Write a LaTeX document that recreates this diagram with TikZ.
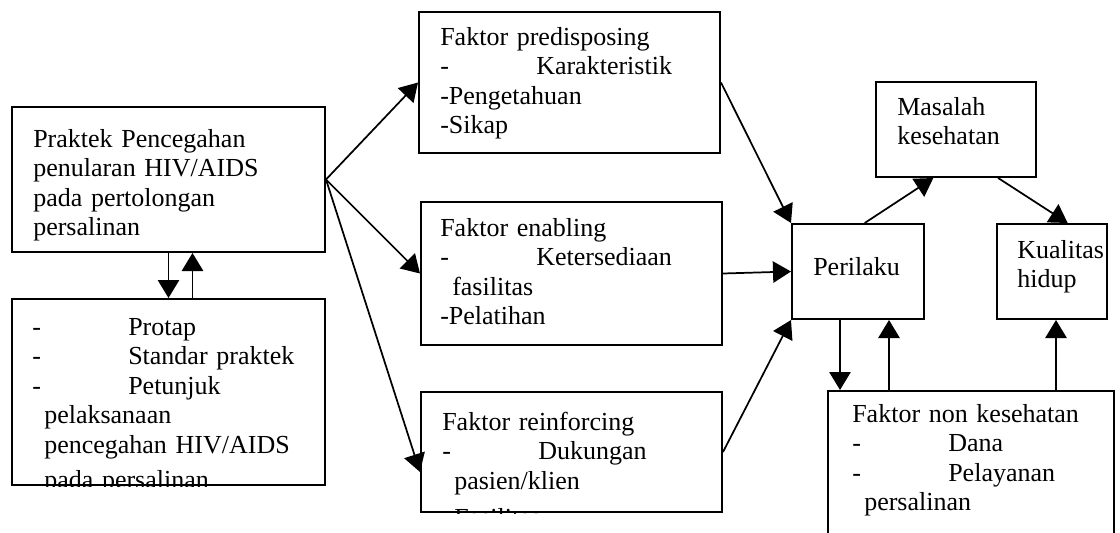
\documentclass[tikz,border=0pt]{standalone}
\usepackage{fontspec}
\setmainfont{Liberation Serif}
\usetikzlibrary{arrows.meta,fit,calc}
\newcommand{\dtab}[1]{\makebox[72pt][l]{-}#1}
\newcommand{\cind}[1]{\hspace*{9pt}#1}
\begin{document}
\begin{tikzpicture}[x=0.75pt,y=-0.75pt,
  box/.style={draw,line width=1.5pt,inner sep=0pt},
  txt/.style={anchor=base west,inner sep=0pt,align=left,text width=300pt,
    font=\fontsize{19.5pt}{22.2pt}\selectfont},
  arr/.style={line width=1.3pt,-{Triangle[length=13.5pt,width=16pt]}}]
\clip (0,0) rectangle (1120,532);
% boxes
\node[box,fit={(12,107)(325,252)}] (b1) {};
\node[box,fit={(12,299)(325,485)}] (b2) {};
\node[box,fit={(419,12)(720,153)}] (b3) {};
\node[box,fit={(421,202)(722,345)}] (b4) {};
\node[box,fit={(421,392)(722,512)}] (b5) {};
\node[box,fit={(792,224)(924,319)}] (p) {};
\node[box,fit={(876,82)(1036,177)}] (m) {};
\node[box,fit={(997,224)(1107,319)}] (k) {};
\node[box,fit={(828,391)(1114,560)}] (n) {};
% texts
\node[txt] (t1) at (33,147) {Praktek Pencegahan\\penularan HIV/AIDS\\pada pertolongan\\persalinan};
\begin{scope}
\clip (b2.north west) rectangle (b2.south east);
\node[txt] (t2) at (32,335) {\dtab{Protap}\\\dtab{Standar praktek}\\\dtab{Petunjuk}\\\cind{pelaksanaan}\\\cind{pencegahan HIV/AIDS}\\[4pt]\cind{pada persalinan}};
\end{scope}
\node[txt] (t3) at (440,45) {Faktor predisposing\\\dtab{Karakteristik}\\-Pengetahuan\\-Sikap};
\node[txt] (t4) at (440,236) {Faktor enabling\\\dtab{Ketersediaan}\\\cind{fasilitas}\\-Pelatihan};
\begin{scope}
\clip (b5.north west) rectangle (b5.south east);
\node[txt] (t5) at (442,430) {Faktor reinforcing\\\dtab{Dukungan}\\\cind{pasien/klien}\\[5.4pt]\cind{Fasilitas}};
\end{scope}
\node[txt] (tp) at (813,275) {Perilaku};
\node[txt] (tm) at (897,115) {Masalah\\kesehatan};
\node[txt] (tk) at (1017,258) {Kualitas\\hidup};
\node[txt] (tn) at (852,422) {Faktor non kesehatan\\\dtab{Dana}\\\dtab{Pelayanan}\\\cind{persalinan}};
% connectors
\draw[arr] (b1.east) -- (b3.west);
\draw[arr] (b1.east) -- (b4.west);
\draw[arr] (b1.east) -- ([yshift=-15pt]b5.west);
\draw[arr] (b1.south) -- (b2.north);
\draw[arr] ([xshift=18pt]b2.north) -- ([xshift=18pt]b1.south);
\draw[arr] (b3.east) -- (p.north west);
\draw[arr] (b4.east) -- (p.west);
\draw[arr] (b5.east) -- (p.south west);
\coordinate (pm) at ($(p.north west)!0.55!(p.north east)$);
\coordinate (mb) at ($(m.south west)!0.36!(m.south east)$);
\draw[arr] (pm) -- (mb);
\coordinate (ms) at ($(m.south west)!0.76!(m.south east)$);
\coordinate (kt) at ($(k.north west)!0.64!(k.north east)$);
\draw[arr] (ms) -- (kt);
\draw[arr] ([xshift=-13.5pt]p.south) -- ([xshift=-13.5pt]p.south |- n.north);
\draw[arr] ([xshift=23.25pt]p.south |- n.north) -- ([xshift=23.25pt]p.south);
\draw[arr] ([xshift=3pt]k.south |- n.north) -- ([xshift=3pt]k.south);
\end{tikzpicture}
\end{document}
